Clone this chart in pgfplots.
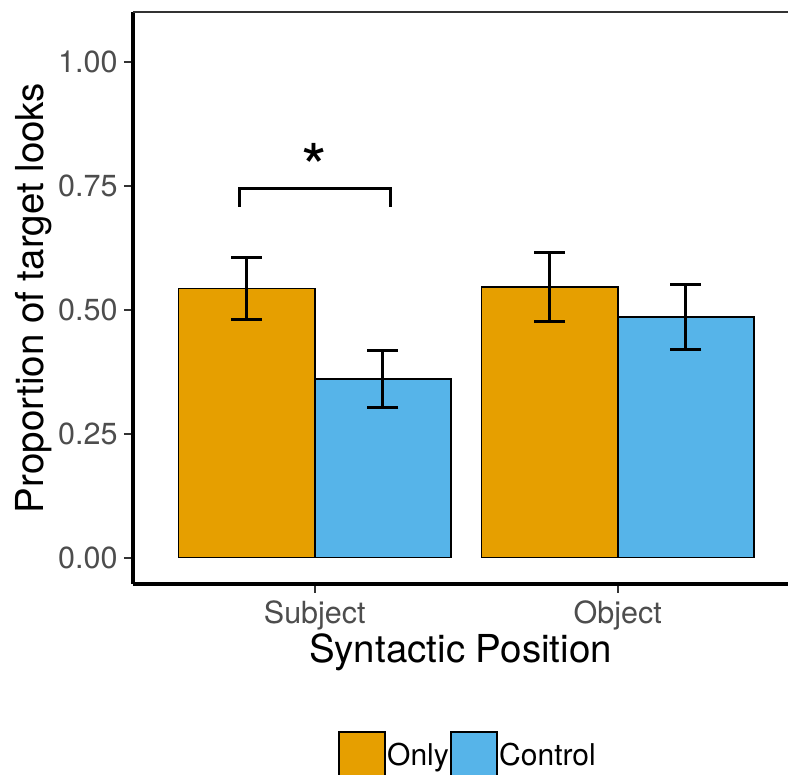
\documentclass[border=0pt]{standalone}
\usepackage{fontspec}
\setmainfont{TeX Gyre Heros}
\usepackage{pgfplots}
\pgfplotsset{compat=1.18}
\definecolor{onlyc}{HTML}{E69F00}
\definecolor{ctrlc}{HTML}{56B4E9}
\definecolor{tickgray}{HTML}{4D4D4D}
\pgfplotsset{
  mykey/.style={legend image code/.code={\draw[##1,draw=black,line width=1.5pt] (0pt,-23pt) rectangle (46pt,23pt);}},
  myerr/.style={draw=none, mark=none, forget plot,
    error bars/.cd, y dir=both, y explicit, error mark=|,
    error bar style={line width=3pt, black},
    error mark options={line width=3pt, black, mark size=15.5pt}},
}
\begin{document}
\begin{tikzpicture}
\useasboundingbox (0,0) rectangle (788pt,775pt);
\begin{axis}[
  at={(133pt,191pt)}, anchor=south west,
  scale only axis, width=655pt, height=572pt,
  xmin=0.4, xmax=2.5617, ymin=-0.053, ymax=1.100,
  clip=false,
  axis x line*=bottom, axis y line*=left,
  axis line style={line width=3.5pt, black},
  xtick={1,2}, xticklabels={Subject,Object},
  ytick={0,0.25,0.5,0.75,1},
  xtick pos=left, ytick pos=left,
  tick align=outside, major tick length=9pt,
  major tick style={line width=2pt, black!80},
  /pgf/number format/assume math mode=true,
  y tick label style={/pgf/number format/fixed, /pgf/number format/fixed zerofill, /pgf/number format/precision=2, xshift=-3pt},
  x tick label style={yshift=-4pt},
  tick label style={font=\fontsize{30.5}{30.5}\selectfont, text=tickgray},
  xlabel={Syntactic Position},
  xlabel style={font=\fontsize{38.5}{38.5}\selectfont, at={(axis description cs:0.5,-0.138)}, anchor=base},
  ylabel={Proportion of target looks},
  ylabel style={font=\fontsize{38.5}{38.5}\selectfont, at={(axis description cs:-0.137,0.5)}, anchor=base, rotate=0},
  legend columns=2,
  legend style={at={(0.313,-0.299)}, anchor=west, draw=none, fill=none, inner sep=0pt,
    font=\fontsize{30}{30}\selectfont,
    nodes={inner xsep=1.5pt},
    /tikz/every even column/.append style={column sep=0pt}},
]
\addplot[ybar, bar width=136.35pt, bar shift=-68.18pt, fill=onlyc, draw=black, line width=1.5pt, area legend, mykey]
  coordinates {(1,0.543) (2,0.546)};
\addlegendentry{Only}
\addplot[ybar, bar width=136.35pt, bar shift=68.18pt, fill=ctrlc, draw=black, line width=1.5pt, area legend, mykey]
  coordinates {(1,0.360) (2,0.485)};
\addlegendentry{Control}
\addplot[myerr] coordinates {(0.775,0.543) +- (0,0.062) (1.775,0.546) +- (0,0.070)};
\addplot[myerr] coordinates {(1.225,0.360) +- (0,0.057) (2.225,0.485) +- (0,0.065)};
\addplot[black, line width=3pt, sharp plot, no marks, forget plot]
  coordinates {(0.75,0.707) (0.75,0.745) (1.25,0.745) (1.25,0.707)};
\draw[line width=2pt, black!80] (rel axis cs:0,1) -- (rel axis cs:1,1);
\node[inner sep=0pt, anchor=north, font=\fontsize{66}{66}\selectfont] at (axis cs:1,0.836) {*};
\end{axis}
\end{tikzpicture}
\end{document}
